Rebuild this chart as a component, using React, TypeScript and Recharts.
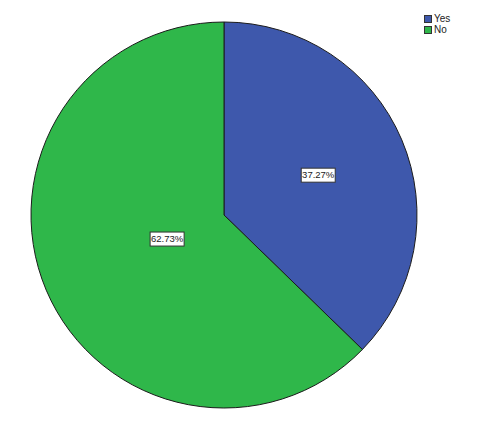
import React from "react";
import { PieChart, Pie, Cell, Legend } from "recharts";

const categories = ["Yes", "No"];
const percents = [37.27, 62.73];
const colors = ["#3e58ac", "#2fb74a"];
const labelRadiusFactors = [0.53, 0.32];

const data = categories.map((name, i) => ({ name, value: percents[i] }));

const RAD = Math.PI / 180;

const renderLabel = (props: any) => {
  const { cx, cy, midAngle, outerRadius, index } = props;
  const r = outerRadius * labelRadiusFactors[index];
  const x = cx + r * Math.cos(-midAngle * RAD);
  const y = cy + r * Math.sin(-midAngle * RAD);
  const text = percents[index].toFixed(2) + "%";
  const w = 34;
  const h = 14;
  return (
    <g>
      <rect x={x - w / 2} y={y - h / 2} width={w} height={h} fill="#ffffff" stroke="#333333" strokeWidth={1} />
      <text x={x} y={y + 0.5} textAnchor="middle" dominantBaseline="middle" fontSize={9.5} fill="#222222" fontFamily="Liberation Sans, Arial, sans-serif">
        {text}
      </text>
    </g>
  );
};

const renderLegend = () => (
  <div style={{ fontFamily: "Liberation Sans, Arial, sans-serif", fontSize: 10, color: "#222" }}>
    {categories.map((c, i) => (
      <div key={c} style={{ display: "flex", alignItems: "center", height: 11 }}>
        <span style={{ display: "inline-block", width: 8, height: 8, background: colors[i], border: "1px solid #333", marginRight: 2, boxSizing: "border-box" }} />
        <span>{c}</span>
      </div>
    ))}
  </div>
);

export default function App() {
  return (
    <div style={{ position: "absolute", left: 0, top: 0, width: 480, height: 421, background: "#fff" }}>
      <PieChart width={480} height={421} margin={{ top: 0, right: 0, bottom: 0, left: 0 }}>
        <Pie
          data={data}
          dataKey="value"
          nameKey="name"
          cx={224}
          cy={215}
          outerRadius={193}
          startAngle={90}
          endAngle={-270}
          stroke="#1c1c1c"
          strokeWidth={1}
          label={renderLabel}
          labelLine={false}
          isAnimationActive={false}
        >
          {data.map((d, i) => (
            <Cell key={d.name} fill={colors[i]} />
          ))}
        </Pie>
        <Legend content={renderLegend} layout="vertical" verticalAlign="top" align="right" wrapperStyle={{ position: "absolute", left: 424, top: 13, width: 50 }} />
      </PieChart>
    </div>
  );
}
